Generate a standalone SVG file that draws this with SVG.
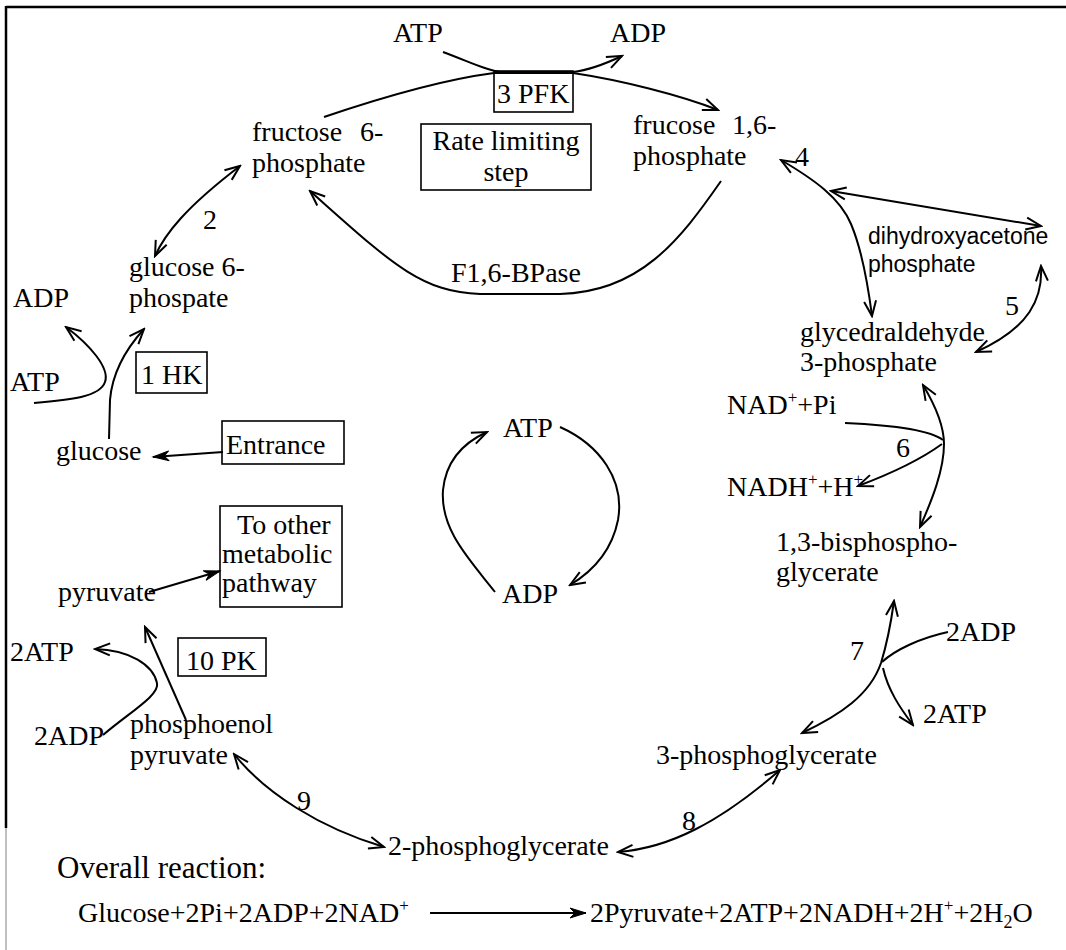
<svg xmlns="http://www.w3.org/2000/svg" width="1066" height="950" viewBox="0 0 1066 950">
<style>
text{font-family:"Liberation Serif","Times New Roman",serif;font-size:28px;fill:#000}
.sans{font-family:"Liberation Sans",Arial,sans-serif;font-size:23px}
.big{font-size:31px}
.box{fill:none;stroke:#000;stroke-width:1.6}
.c{fill:none;stroke:#000;stroke-width:2}
.a{marker-end:url(#v)}
.aa{marker-start:url(#v);marker-end:url(#v)}
.ab{marker-end:url(#b)}
</style>
<defs>
<marker id="v" viewBox="-18 -9 20 18" refX="0" refY="0" markerWidth="20" markerHeight="18" markerUnits="userSpaceOnUse" orient="auto-start-reverse">
<path d="M-15,-6 L0,0 L-15,6" fill="none" stroke="#000" stroke-width="2"/>
</marker>
<marker id="b" viewBox="-18 -9 20 18" refX="0" refY="0" markerWidth="20" markerHeight="18" markerUnits="userSpaceOnUse" orient="auto">
<path d="M-16,-5 L0,0 L-16,5 L-11,0 Z" fill="#000" stroke="#000" stroke-width="1"/>
</marker>
</defs>
<rect width="1066" height="950" fill="#fff"/>
<g id="frame">
<path d="M6,7 H1066" stroke="#000" stroke-width="2.5" fill="none"/>
<path d="M6,6 V828" stroke="#000" stroke-width="2.5" fill="none"/>
<path d="M6,828 V950" stroke="#aaa" stroke-width="1.5" fill="none"/>
</g>
<g id="connectors">
<path class="c a" d="M443,52 C470,62 485,70 500,72 L573,72 C590,70 605,64 622,56"/>
<path class="c a" d="M324,117 C380,98 440,80 494,73 L573,73 C620,80 680,95 718,110"/>
<path class="c a" d="M721,181 C680,240 640,292 560,294 L480,294 C420,292 390,262 310,191"/>
<path class="c aa" d="M155,256 C165,234 185,208 240,166"/>
<path class="c a" d="M34,403 C70,400 100,397 105,382 C110,368 90,345 66,327"/>
<path class="c a" d="M109,439 L110,400 C112,375 125,350 144,329"/>
<path class="c ab" d="M223,452 L153,457"/>
<path class="c ab" d="M149,592 L220,571"/>
<path class="c a" d="M103,735 C130,712 160,695 157,683 C153,665 130,650 95,649"/>
<path class="c a" d="M186,720 L145,627"/>
<path class="c aa" d="M234,754 C265,793 320,828 384,847"/>
<path class="c aa" d="M618,852 C670,848 720,822 780,770"/>
<path class="c aa" d="M894,601 C890,630 885,650 881,663 C870,695 840,715 802,733"/>
<path class="c" d="M948,632 C920,638 895,650 882,662"/>
<path class="c a" d="M883,668 C888,690 900,708 913,725"/>
<path class="c aa" d="M923,385 C935,405 944,425 944,444 C944,470 932,500 920,527"/>
<path class="c" d="M845,423 C890,425 930,430 943,440"/>
<path class="c a" d="M942,444 C920,460 890,474 858,486"/>
<path class="c aa" d="M781,160 C815,180 840,198 851,224 C862,250 868,285 872,316"/>
<path class="c aa" d="M831,191 L1041,226"/>
<path class="c aa" d="M1041,266 C1043,298 1030,328 976,352"/>
<path class="c a" d="M560,427 C600,445 625,480 618,520 C612,550 595,570 570,585"/>
<path class="c a" d="M495,592 C470,560 440,530 443,490 C446,460 465,442 487,432"/>
<path class="c ab" d="M430,913 L586,913" stroke-width="1.6"/>
</g>
<g id="atp-top"><text x="393" y="42">ATP</text></g>
<g id="adp-top"><text x="610" y="42">ADP</text></g>
<g id="pfk"><rect class="box" x="494" y="71" width="79" height="41"/><text x="497" y="103">3 PFK</text></g>
<g id="rate"><rect class="box" x="421" y="124" width="170" height="66"/><text x="506" y="150" text-anchor="middle">Rate limiting</text><text x="506" y="181" text-anchor="middle">step</text></g>
<g id="f6p"><text x="252" y="141">fructose</text><text x="360" y="141">6-</text><text x="252" y="172">phosphate</text></g>
<g id="f16bp"><text x="633" y="134">frucose</text><text x="732" y="134">1,6-</text><text x="633" y="165">phosphate</text></g>
<g id="n4"><text x="795" y="166">4</text></g>
<g id="dhap"><text class="sans" x="868" y="244">dihydroxyacetone</text><text class="sans" x="868" y="272">phosphate</text></g>
<g id="n5"><text x="1005" y="315">5</text></g>
<g id="g3p"><text x="800" y="341">glycedraldehyde</text><text x="800" y="371">3-phosphate</text></g>
<g id="fbpase"><text x="451" y="282">F1,6-BPase</text></g>
<g id="n2"><text x="203" y="229">2</text></g>
<g id="g6p"><text x="129" y="276">glucose 6-</text><text x="129" y="307">phospate</text></g>
<g id="adp-left"><text x="13" y="307">ADP</text></g>
<g id="atp-left"><text x="10" y="391">ATP</text></g>
<g id="hk"><rect class="box" x="136" y="352" width="71" height="41"/><text x="141" y="384">1 HK</text></g>
<g id="glucose"><text x="56" y="460">glucose</text></g>
<g id="entrance"><rect class="box" x="222" y="421" width="122" height="43"/><text x="226" y="454">Entrance</text></g>
<g id="other"><rect class="box" x="220" y="506" width="122" height="101"/><text x="237" y="534">To other</text><text x="222" y="563">metabolic</text><text x="222" y="592">pathway</text></g>
<g id="pyruvate"><text x="58" y="601">pyruvate</text></g>
<g id="atp2-left"><text x="10" y="661">2ATP</text></g>
<g id="pk"><rect class="box" x="178" y="638" width="88" height="38"/><text x="186" y="670">10 PK</text></g>
<g id="adp2-left"><text x="34" y="745">2ADP</text></g>
<g id="pep"><text x="130" y="733">phosphoenol</text><text x="130" y="764">pyruvate</text></g>
<g id="n9"><text x="297" y="810">9</text></g>
<g id="pg2"><text x="388" y="855">2-phosphoglycerate</text></g>
<g id="n8"><text x="682" y="830">8</text></g>
<g id="pg3"><text x="656" y="764">3-phosphoglycerate</text></g>
<g id="n7"><text x="850" y="660">7</text></g>
<g id="adp2-right"><text x="946" y="641">2ADP</text></g>
<g id="atp2-right"><text x="923" y="723">2ATP</text></g>
<g id="bpg"><text x="776" y="551">1,3-bisphospho-</text><text x="776" y="581">glycerate</text></g>
<g id="nad"><text x="727" y="414">NAD<tspan font-size="17" dy="-11">+</tspan><tspan dy="11">+Pi</tspan></text></g>
<g id="n6"><text x="896" y="457">6</text></g>
<g id="nadh"><text x="727" y="496">NADH<tspan font-size="17" dy="-11">+</tspan><tspan dy="11">+H</tspan><tspan font-size="17" dy="-11">+</tspan></text></g>
<g id="atp-center"><text x="503" y="437">ATP</text></g>
<g id="adp-center"><text x="502" y="603">ADP</text></g>
<g id="overall"><text class="big" x="57" y="878">Overall reaction:</text></g>
<g id="equation"><text x="78" y="922">Glucose+2Pi+2ADP+2NAD<tspan font-size="17" dy="-11">+</tspan></text><text x="590" y="922">2Pyruvate+2ATP+2NADH+2H<tspan font-size="17" dy="-11">+</tspan><tspan dy="11">+2H</tspan><tspan font-size="18" dy="6">2</tspan><tspan dy="-6">O</tspan></text></g>
</svg>
